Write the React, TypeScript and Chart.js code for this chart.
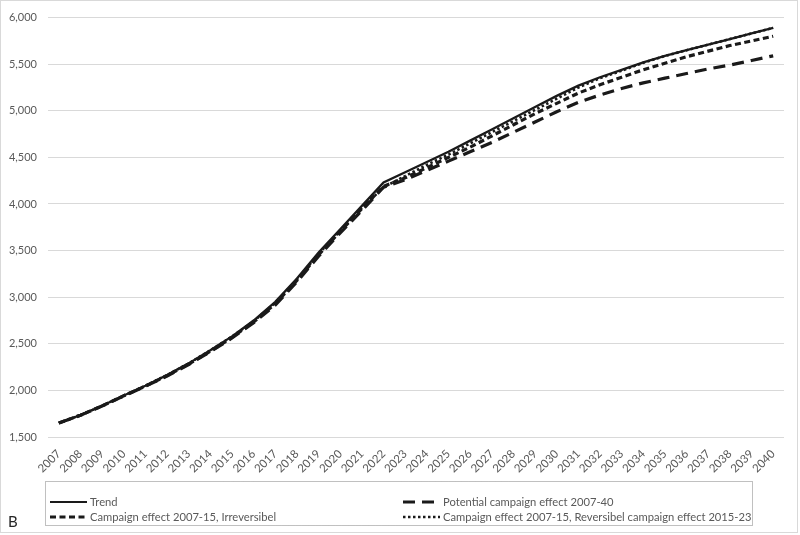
import React, { useEffect, useRef } from "react";
import { Chart, registerables } from "chart.js";

Chart.register(...registerables);

const years: string[] = [
  "2007","2008","2009","2010","2011","2012","2013","2014","2015","2016","2017","2018",
  "2019","2020","2021","2022","2023","2024","2025","2026","2027","2028","2029","2030",
  "2031","2032","2033","2034","2035","2036","2037","2038","2039","2040",
];

const trend: number[] = [
  1650, 1735, 1835, 1945, 2050, 2165, 2290, 2430, 2580, 2750, 2950, 3200,
  3480, 3730, 3980, 4230, 4340, 4450, 4560, 4680, 4800, 4920, 5040, 5160,
  5270, 5360, 5440, 5520, 5590, 5650, 5710, 5770, 5830, 5890,
];

const potential: number[] = [
  1650, 1733, 1832, 1940, 2044, 2155, 2278, 2415, 2562, 2725, 2915, 3165,
  3440, 3690, 3930, 4180, 4260, 4360, 4460, 4560, 4660, 4770, 4880, 4990,
  5090, 5170, 5240, 5300, 5350, 5400, 5450, 5490, 5540, 5590,
];

const irreversible: number[] = [
  1650, 1734, 1833, 1942, 2046, 2158, 2282, 2420, 2568, 2735, 2930, 3180,
  3455, 3705, 3950, 4190, 4280, 4390, 4500, 4610, 4730, 4850, 4970, 5080,
  5190, 5280, 5360, 5440, 5510, 5580, 5640, 5700, 5750, 5800,
];

const reversible: number[] = [
  1650, 1735, 1835, 1945, 2050, 2165, 2290, 2430, 2578, 2742, 2940, 3190,
  3465, 3712, 3955, 4180, 4300, 4420, 4530, 4650, 4770, 4890, 5010, 5130,
  5250, 5350, 5430, 5515, 5588, 5650, 5710, 5770, 5830, 5890,
];

const seriesNames: string[] = [
  "Trend",
  "Potential campaign effect 2007-40",
  "Campaign effect 2007-15, Irreversibel",
  "Campaign effect 2007-15, Reversibel campaign effect 2015-23",
];

const FONT = "Lato, 'Open Sans', sans-serif";
const LINE = "#1a1a1a";

const DASH_SOLID: number[] = [];
const DASH_LONG = [12, 7];
const DASH_MED = [6, 3.5];
const DASH_DOT = [2.5, 2.5];

const decorPlugin = {
  id: "decor",
  afterDraw(chart: any) {
    const ctx = chart.ctx as CanvasRenderingContext2D;
    ctx.save();
    // outer chart border
    ctx.setLineDash([]);
    ctx.strokeStyle = "#d9d9d9";
    ctx.lineWidth = 1;
    ctx.strokeRect(0.5, 0.5, 797, 532);

    // legend box
    ctx.setLineDash([1, 1]);
    ctx.strokeStyle = "#808080";
    ctx.strokeRect(45.5, 481.5, 707, 44);

    const items = [
      { x: 50, y: 502, dash: DASH_SOLID, w: 2.2, label: seriesNames[0] },
      { x: 403, y: 502, dash: DASH_LONG, w: 3.2, label: seriesNames[1] },
      { x: 50, y: 517, dash: DASH_MED, w: 3.2, label: seriesNames[2] },
      { x: 403, y: 517, dash: DASH_DOT, w: 2.6, label: seriesNames[3] },
    ];
    ctx.font = `11.2px ${FONT}`;
    ctx.textBaseline = "middle";
    ctx.textAlign = "left";
    for (const it of items) {
      ctx.setLineDash(it.dash);
      ctx.strokeStyle = LINE;
      ctx.lineWidth = it.w;
      ctx.beginPath();
      ctx.moveTo(it.x, it.y);
      ctx.lineTo(it.x + 37, it.y);
      ctx.stroke();
      ctx.setLineDash([]);
      ctx.fillStyle = "#595959";
      ctx.fillText(it.label, it.x + 40, it.y);
    }

    // panel letter
    ctx.fillStyle = "#262626";
    ctx.font = `15px ${FONT}`;
    ctx.textBaseline = "alphabetic";
    ctx.fillText("B", 8, 527);
    ctx.restore();
  },
};

export default function App() {
  const canvasRef = useRef<HTMLCanvasElement | null>(null);

  useEffect(() => {
    if (!canvasRef.current) return;
    const mk = (label: string, data: number[], dash: number[], w: number) => ({
      label,
      data,
      borderColor: LINE,
      backgroundColor: LINE,
      borderWidth: w,
      borderDash: dash,
      borderCapStyle: "butt" as const,
      pointRadius: 0,
      pointHoverRadius: 0,
      tension: 0,
      fill: false,
    });
    const chart = new Chart(canvasRef.current, {
      type: "line",
      data: {
        labels: years,
        datasets: [
          mk(seriesNames[0], trend, DASH_SOLID, 2.3),
          mk(seriesNames[1], potential, DASH_LONG, 3.2),
          mk(seriesNames[2], irreversible, DASH_MED, 3.2),
          mk(seriesNames[3], reversible, DASH_DOT, 2.6),
        ],
      },
      options: {
        animation: false,
        responsive: false,
        maintainAspectRatio: false,
        layout: { padding: { left: 0, right: 16, top: 15, bottom: 60 } },
        plugins: {
          legend: { display: false },
          tooltip: { enabled: false },
        },
        scales: {
          x: {
            offset: true,
            grid: { display: false },
            border: { display: false },
            ticks: {
              color: "#595959",
              font: { family: FONT, size: 11.5 },
              maxRotation: 45,
              minRotation: 45,
              autoSkip: false,
              padding: 2,
            },
            afterFit(scale: any) {
              scale.height = 38;
            },
          },
          y: {
            min: 1500,
            max: 6000,
            grid: { color: "#d9d9d9", lineWidth: 1, drawTicks: false },
            border: { display: false },
            ticks: {
              stepSize: 500,
              color: "#595959",
              padding: 11,
              font: { family: FONT, size: 11 },
              callback: (v: any) => Number(v).toLocaleString("en-US"),
            },
            afterFit(scale: any) {
              scale.width = 48;
            },
          },
        },
      },
      plugins: [decorPlugin],
    });
    return () => chart.destroy();
  }, []);

  return (
    <div style={{ position: "fixed", left: 0, top: 0, width: 800, height: 535, background: "#fff" }}>
      <canvas ref={canvasRef} width={800} height={535} style={{ width: 800, height: 535, display: "block" }} />
    </div>
  );
}
